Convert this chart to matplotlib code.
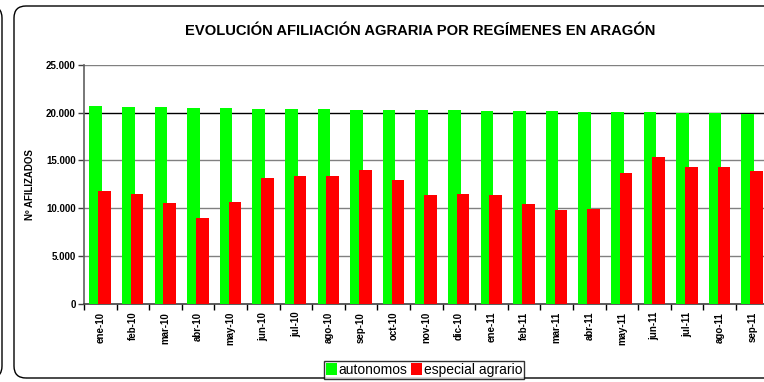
import matplotlib
matplotlib.use('Agg')
import matplotlib.pyplot as plt
from matplotlib.patches import FancyBboxPatch
import numpy as np

meses = ['ene-10', 'feb-10', 'mar-10', 'abr-10', 'may-10', 'jun-10', 'jul-10',
         'ago-10', 'sep-10', 'oct-10', 'nov-10', 'dic-10', 'ene-11', 'feb-11',
         'mar-11', 'abr-11', 'may-11', 'jun-11', 'jul-11', 'ago-11', 'sep-11']
autonomos = [20700, 20630, 20560, 20530, 20480, 20420, 20420, 20350, 20320,
             20320, 20280, 20250, 20180, 20140, 20140, 20100, 20070, 20030,
             20000, 19930, 19860]
especial_agrario = [11830, 11450, 10500, 8960, 10610, 13140, 13350, 13320,
                    14020, 12900, 11360, 11470, 11330, 10450, 9780, 9920,
                    13660, 15320, 14340, 14300, 13920]
yticks = [0, 5000, 10000, 15000, 20000, 25000]
ytick_labels = ['0', '5.000', '10.000', '15.000', '20.000', '25.000']

plt.rcParams['font.family'] = ['Liberation Sans', 'DejaVu Sans']

fig = plt.figure(figsize=(7.64, 3.82), dpi=100)

# marcos redondeados (borde del grafico anterior y del actual)
for x0, w in [(-1.0, 1.02), (0.14, 8.0)]:
    marco = FancyBboxPatch((x0, 0.04), w, 3.72, boxstyle='round,pad=0,rounding_size=0.12',
                           transform=fig.dpi_scale_trans, facecolor='none',
                           edgecolor='black', linewidth=1.0, zorder=-1)
    fig.patches.append(marco)

ax = fig.add_axes([84 / 764, 1 - 303.5 / 382, 21 * 32.6 / 764, 238.5 / 382])
ax.patch.set_alpha(0)
x = np.arange(len(meses))
ancho = 0.39
ax.bar(x - 0.14, autonomos, ancho, color='#00ff00', zorder=3, label='autonomos')
ax.bar(x + 0.13, especial_agrario, ancho, color='#ff0000', zorder=4, label='especial agrario')

for y in yticks[1:]:
    ax.axhline(y, color='black' if y == 20000 else '#808080', linewidth=1.0, zorder=1)

ax.set_xlim(-0.5, len(meses) - 0.5)
ax.set_ylim(0, 25000)
ax.set_yticks(yticks)
ax.set_yticklabels(ytick_labels, fontsize=7, fontweight='bold')
ax.set_xticks(x)
ax.set_xticklabels(meses, rotation=90, fontsize=7, fontweight='bold')
ax.set_xticks(np.arange(len(meses) + 1) - 0.5, minor=True)
ax.tick_params(axis='x', which='major', length=0, pad=6)
ax.tick_params(axis='x', which='minor', length=4, color='black', width=1)
ax.tick_params(axis='y', length=4, color='#404040', width=1, pad=2)
for s in ['top', 'right']:
    ax.spines[s].set_visible(False)
ax.spines['left'].set_color('#606060')
ax.spines['left'].set_linewidth(1.2)
ax.spines['bottom'].set_color('#404040')
ax.spines['bottom'].set_linewidth(1.2)
ax.set_ylabel('Nº AFILIZADOS', fontsize=7, fontweight='bold', labelpad=8)

fig.text(420 / 764, 1 - 31 / 382, 'EVOLUCIÓN AFILIACIÓN AGRARIA POR REGÍMENES EN ARAGÓN',
         ha='center', va='center', fontsize=10.6, fontweight='bold')

leg = fig.legend(loc='center', bbox_to_anchor=(424 / 764, 1 - 370 / 382), ncol=2,
                 fontsize=10, frameon=True, fancybox=False, handlelength=0.8,
                 handleheight=0.9, handletextpad=0.1, columnspacing=0.3,
                 borderpad=0.15, borderaxespad=0)
leg.get_frame().set_edgecolor('black')
leg.get_frame().set_linewidth(1.0)

fig.savefig('out.png', dpi=100)
